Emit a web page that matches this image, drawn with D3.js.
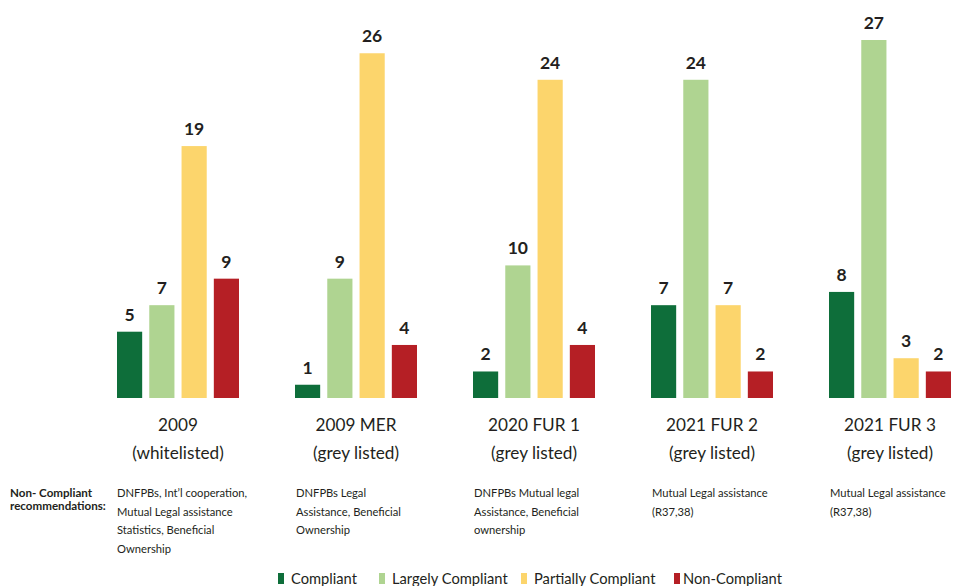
<!DOCTYPE html>
<html>
<head>
<meta charset="utf-8">
<script src="https://cdn.jsdelivr.net/npm/d3@7"></script>
<style>
  html, body { margin: 0; padding: 0; background: #fff; }
  svg { display: block; font-family: Lato, "Open Sans", sans-serif; }
</style>
</head>
<body>
<svg id="chart" width="953" height="586"></svg>
<script>
const categories = [
  ["2009", "(whitelisted)"],
  ["2009 MER", "(grey listed)"],
  ["2020 FUR 1", "(grey listed)"],
  ["2021 FUR 2", "(grey listed)"],
  ["2021 FUR 3", "(grey listed)"]
];
const seriesNames = ["Compliant", "Largely Compliant", "Partially Compliant", "Non-Compliant"];
const compliant = [5, 1, 2, 7, 8];
const largelyCompliant = [7, 9, 10, 24, 27];
const partiallyCompliant = [19, 26, 24, 7, 3];
const nonCompliant = [9, 4, 4, 2, 2];
const notes = [
  ["DNFPBs, Int\u2019l cooperation,", "Mutual Legal assistance", "Statistics, Beneficial", "Ownership"],
  ["DNFPBs Legal", "Assistance, Beneficial", "Ownership"],
  ["DNFPBs Mutual legal", "Assistance, Beneficial", "ownership"],
  ["Mutual Legal assistance", "(R37,38)"],
  ["Mutual Legal assistance", "(R37,38)"]
];
const colors = ["#0e6e3a", "#afd491", "#fcd56c", "#b51f25"];

const series = [compliant, largelyCompliant, partiallyCompliant, nonCompliant];
const svg = d3.select("#chart");

const x0 = d3.scaleBand().domain(d3.range(categories.length)).range([88, 978]).paddingInner(0).paddingOuter(0);
const x1 = d3.scaleBand().domain(d3.range(seriesNames.length)).range([29, 29 + 122]).paddingInner(0.22).paddingOuter(0);
const y = d3.scaleLinear().domain([0, 27]).range([398, 40]);

const groups = svg.selectAll("g.grp").data(categories).join("g")
  .attr("class", "grp")
  .attr("transform", (d, i) => `translate(${x0(i)},0)`);

groups.each(function(cat, gi) {
  const g = d3.select(this);
  series.forEach((s, si) => {
    const v = s[gi];
    g.append("rect")
      .attr("x", x1(si))
      .attr("y", y(v))
      .attr("width", x1.bandwidth())
      .attr("height", y(0) - y(v))
      .attr("fill", colors[si]);
    g.append("text")
      .attr("x", x1(si) + x1.bandwidth() / 2)
      .attr("y", y(v) - 11)
      .attr("text-anchor", "middle")
      .attr("font-size", 17.5)
      .attr("font-weight", 700)
      .attr("fill", "#231f20")
      .text(v);
  });
  const cx = x1(0) + (x1(3) + x1.bandwidth() - x1(0)) / 2;
  cat.forEach((line, li) => {
    g.append("text")
      .attr("x", cx)
      .attr("y", 431 + li * 28)
      .attr("text-anchor", "middle")
      .attr("font-size", 17.2)
      .attr("fill", "#231f20")
      .text(line);
  });
  notes[gi].forEach((line, li) => {
    g.append("text")
      .attr("x", x1(0) + (gi === 0 ? 0 : 1))
      .attr("y", 497 + li * 18.5)
      .attr("font-size", 11.2)
      .attr("fill", "#231f20")
      .text(line);
  });
});

svg.append("text").attr("x", 10).attr("y", 496.5).attr("font-size", 11.6).attr("font-weight", 700)
  .attr("fill", "#231f20").text("Non- Compliant");
svg.append("text").attr("x", 10).attr("y", 510).attr("font-size", 11.6).attr("font-weight", 700)
  .attr("fill", "#231f20").text("recommendations:");

// Legend
const legendX = [278, 379, 521, 674];
const legend = svg.selectAll("g.leg").data(seriesNames).join("g")
  .attr("class", "leg")
  .attr("transform", (d, i) => `translate(${legendX[i]},573)`);
legend.append("rect").attr("x", 0).attr("y", 0).attr("width", 6).attr("height", 11)
  .attr("fill", (d, i) => colors[i]);
legend.append("text").attr("x", (d, i) => i === 3 ? 9 : 13).attr("y", 10.5)
  .attr("font-size", 14.7).attr("fill", "#231f20").text(d => d);
</script>
</body>
</html>
